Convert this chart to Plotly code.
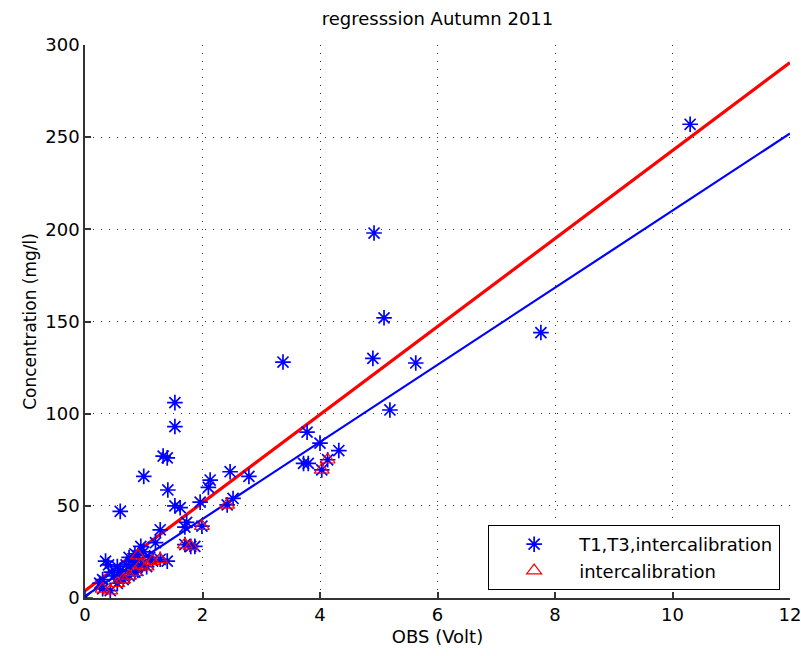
import plotly.graph_objects as go

# T1,T3,intercalibration points (blue stars)
star_x = [0.0, 0.25, 0.3, 0.35, 0.4, 0.45, 0.5, 0.55, 0.6, 0.6, 0.65, 0.7, 0.75, 0.8, 0.85,
          0.9, 0.95, 1.0, 1.0, 1.1, 1.2, 1.28, 1.33, 1.40, 1.40, 1.41, 1.53, 1.53, 1.53,
          1.62, 1.70, 1.73, 1.87, 1.96, 2.10, 2.13, 2.47, 2.52, 2.79, 3.37, 3.72, 3.80,
          3.78, 4.00, 4.32, 4.90, 4.92, 5.09, 5.19, 5.63, 7.76, 10.30,
          0.30, 0.43, 0.55, 0.65, 0.75, 0.85, 0.90, 0.95, 1.05, 1.15, 1.28, 1.70, 1.80,
          1.99, 2.42, 4.03, 4.13]
star_y = [0, 8, 10, 20, 18, 14, 12, 17, 15, 47, 12, 18, 22, 20, 24,
          15, 28, 25, 66, 22, 30, 37, 77, 76, 20, 58.6, 106, 93, 50,
          49, 38.5, 41, 28, 52, 60, 64, 68.5, 54, 66, 128, 73, 73,
          90, 84, 80, 130, 198, 152, 102, 127.5, 144, 257,
          5, 4, 8, 10, 12, 14, 23, 18, 17, 20, 21, 29, 28,
          39, 50.5, 69.5, 75]

# intercalibration points (red triangles)
tri_x = [0.30, 0.43, 0.55, 0.65, 0.75, 0.85, 0.90, 0.95, 1.05, 1.15, 1.28, 1.70, 1.80,
         1.99, 2.42, 4.03, 4.13]
tri_y = [5, 4, 8, 10, 12, 14, 23, 18, 17, 20, 21, 29, 28,
         39, 50.5, 69.5, 75]

# regression lines
line_x = [0, 12]
red_fit = [4, 290.5]
blue_fit = [1, 252]

x_ticks = [0, 2, 4, 6, 8, 10, 12]
y_ticks = [0, 50, 100, 150, 200, 250, 300]

FONT = "DejaVu Sans, Liberation Sans, Arial, sans-serif"

fig = go.Figure()
fig.add_trace(go.Scatter(x=line_x, y=red_fit, mode="lines",
                         line=dict(color="#ff0000", width=3.2), showlegend=False))
fig.add_trace(go.Scatter(x=line_x, y=blue_fit, mode="lines",
                         line=dict(color="#0000ff", width=2.2), showlegend=False))
fig.add_trace(go.Scatter(x=star_x, y=star_y, mode="markers", name="T1,T3,intercalibration",
                         marker=dict(symbol="asterisk-open", size=13, color="#0000ff",
                                     line=dict(color="#0000ff", width=1.7))))
fig.add_trace(go.Scatter(x=tri_x, y=tri_y, mode="markers", name="intercalibration",
                         marker=dict(symbol="triangle-up-open", size=13, color="#ff0000",
                                     line=dict(color="#ff0000", width=1.2))))

axis_common = dict(
    showline=True, linecolor="#333333", linewidth=1.5, mirror=False,
    ticks="inside", ticklen=6, tickcolor="#333333", tickwidth=1.5,
    showgrid=True, gridcolor="#333333", gridwidth=1, griddash="1px,7px",
    zeroline=False, automargin=False, ticklabeloverflow="allow",
    tickfont=dict(family=FONT, size=18, color="#000000"),
)

fig.update_layout(
    width=801, height=656,
    margin=dict(l=85, r=11, t=45, b=58),
    paper_bgcolor="white", plot_bgcolor="white",
    font=dict(family=FONT, color="#000000"),
    title=dict(text="regresssion Autumn 2011", x=0.5, xref="paper", xanchor="center",
               y=0.972, yanchor="middle", font=dict(family=FONT, size=18)),
    xaxis=dict(range=[0, 12], tickvals=x_ticks, ticktext=[str(v) for v in x_ticks],
               title=dict(text="OBS (Volt)", font=dict(family=FONT, size=18), standoff=6),
               **axis_common),
    yaxis=dict(range=[0, 300], tickvals=y_ticks, ticktext=[str(v) for v in y_ticks],
               title=dict(text="Concentration (mg/l)", font=dict(family=FONT, size=17), standoff=4),
               **axis_common),
    legend=dict(x=0.986, y=0.0145, xanchor="right", yanchor="bottom",
                bgcolor="white", bordercolor="#000000", borderwidth=1,
                font=dict(family=FONT, size=18), itemwidth=80, tracegroupgap=0),
)

fig.write_html("out.html")
